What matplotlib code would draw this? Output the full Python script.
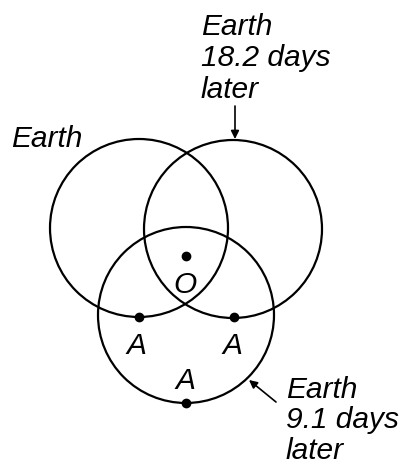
import matplotlib
matplotlib.use('Agg')
import matplotlib.pyplot as plt
from matplotlib.patches import Circle

# diagram geometry in pixel units (y grows downward)
circle_centers = [(139, 229), (233, 230), (186, 316)]
circle_radius = [89, 89, 88]

point_xy = [(186, 257), (139, 318), (234, 318), (186, 404)]
point_labels = ['O', 'A', 'A', 'A']
label_xy = [(185, 293), (136, 354), (232, 354), (185, 389)]

top_note = ['Earth', '18.2 days', 'later']
bottom_note = ['Earth', '9.1 days', 'later']

fig = plt.figure(figsize=(4.07, 4.64), dpi=100)
ax = fig.add_axes([0, 0, 1, 1])
ax.set_xlim(0, 407)
ax.set_ylim(464, 0)
ax.set_aspect('equal')
ax.axis('off')

for (cx, cy), r in zip(circle_centers, circle_radius):
    ax.add_patch(Circle((cx, cy), r, fill=False, ec='black', lw=1.6))

xs = [p[0] for p in point_xy]
ys = [p[1] for p in point_xy]
ax.plot(xs, ys, 'o', color='black', ms=6, ls='none')

font = dict(family='Liberation Sans', style='italic', size=21.5)

for lab, (lx, ly) in zip(point_labels, label_xy):
    ax.text(lx, ly, lab, ha='center', va='baseline', **font)

ax.text(11, 147, 'Earth', ha='left', va='baseline', **font)

for i, line in enumerate(top_note):
    ax.text(201, 35 + i * 31.5, line, ha='left', va='baseline', **font)

for i, line in enumerate(bottom_note):
    ax.text(286, 398 + i * 30.5, line, ha='left', va='baseline', **font)

arrow = dict(arrowstyle='-|>', color='black', lw=1.2, mutation_scale=12,
             shrinkA=0, shrinkB=0)
ax.annotate('', xy=(235, 140), xytext=(235, 107), arrowprops=arrow)
ax.annotate('', xy=(249, 381), xytext=(276, 403), arrowprops=arrow)

fig.savefig('out.png', dpi=100)
